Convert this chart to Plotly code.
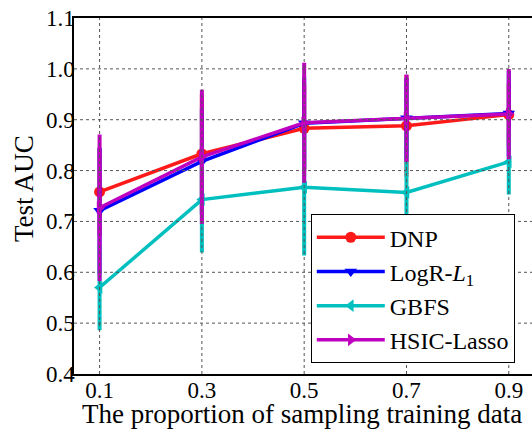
import plotly.graph_objects as go

x_vals = [0.1, 0.3, 0.5, 0.7, 0.9]
x_ticks = ["0.1", "0.3", "0.5", "0.7", "0.9"]
y_vals = [0.4, 0.5, 0.6, 0.7, 0.8, 0.9, 1.0, 1.1]
y_ticks = ["0.4", "0.5", "0.6", "0.7", "0.8", "0.9", "1.0", "1.1"]

dnp = [0.758, 0.833, 0.883, 0.888, 0.910]
dnp_err = [0.082, 0.112, 0.082, 0.096, 0.058]

logr = [0.721, 0.818, 0.893, 0.903, 0.912]
logr_err = [0.120, 0.100, 0.086, 0.075, 0.080]

gbfs = [0.570, 0.743, 0.767, 0.757, 0.817]
gbfs_err = [0.080, 0.100, 0.130, 0.116, 0.060]

hsic = [0.727, 0.827, 0.894, 0.903, 0.911]
hsic_err = [0.140, 0.128, 0.114, 0.082, 0.085]

series = [
    ("DNP", dnp, dnp_err, "#ff1a1a", "circle"),
    ("LogR-<i>L</i><sub>1</sub>", logr, logr_err, "#0000ff", "triangle-down"),
    ("GBFS", gbfs, gbfs_err, "#00bfbf", "triangle-left"),
    ("HSIC-Lasso", hsic, hsic_err, "#bf00bf", "triangle-right"),
]

FONT = "Liberation Serif"
X_RANGE = [0.05, 0.9454]
Y_RANGE = [0.4, 1.1]

fig = go.Figure()
for i, (name, y, err, color, sym) in enumerate(series):
    fig.add_trace(go.Scatter(
        x=x_vals, y=y, name=name, mode="lines+markers",
        line=dict(color=color, width=3.5),
        marker=dict(symbol=sym, size=11, color=color, line=dict(width=0)),
        error_y=dict(type="data", array=err, visible=True, color=color,
                     thickness=4, width=2),
        legendgroup=f"g{i}",
    ))

# dotted grid drawn above the data, like the reference
shapes = []
for xv in x_vals:
    shapes.append(dict(type="line", xref="x", yref="paper", x0=xv, x1=xv, y0=0, y1=1,
                       line=dict(color="#555", width=1, dash="dot"), layer="above"))
for yv in y_vals[1:-1]:
    shapes.append(dict(type="line", xref="paper", yref="y", x0=0, x1=1, y0=yv, y1=yv,
                       line=dict(color="#555", width=1, dash="dot"), layer="above"))

fig.update_layout(
    width=532, height=431,
    margin=dict(l=74, r=0, t=18, b=57),
    paper_bgcolor="white", plot_bgcolor="white",
    font=dict(family=FONT, size=22, color="black"),
    showlegend=True,
    legend=dict(
        x=0.517, y=0.449, xanchor="left", yanchor="top",
        bgcolor="white", bordercolor="black", borderwidth=1,
        font=dict(family=FONT, size=24),
        tracegroupgap=0, itemwidth=68,
    ),
    xaxis=dict(
        range=X_RANGE, tickvals=x_vals, ticktext=x_ticks,
        showgrid=False,
        showline=True, linecolor="black", linewidth=1.5, mirror=True,
        ticks="", zeroline=False, automargin=False,
        tickfont=dict(family=FONT, size=23), ticklabelstandoff=-5,
    ),
    yaxis=dict(
        range=Y_RANGE, tickvals=y_vals, ticktext=y_ticks,
        showgrid=False,
        showline=True, linecolor="black", linewidth=1.5, mirror=False,
        ticks="", zeroline=False, automargin=False,
        tickfont=dict(family=FONT, size=23), ticklabelstandoff=-7,
    ),
    shapes=shapes,
    annotations=[
        dict(text="The proportion of sampling training data",
             xref="paper", yref="paper", x=(302 - 74) / 458, y=-(414 - 374) / 356,
             xanchor="center", yanchor="middle", showarrow=False,
             font=dict(family=FONT, size=27)),
        dict(text="Test AUC", textangle=-90,
             xref="paper", yref="paper", x=-(74 - 24) / 458, y=(374 - 189) / 356,
             xanchor="center", yanchor="middle", showarrow=False,
             font=dict(family=FONT, size=27)),
    ],
)

fig.write_html("out.html", config={"displayModeBar": False},
               post_script="document.body.style.margin='0';document.body.style.overflow='hidden';")
